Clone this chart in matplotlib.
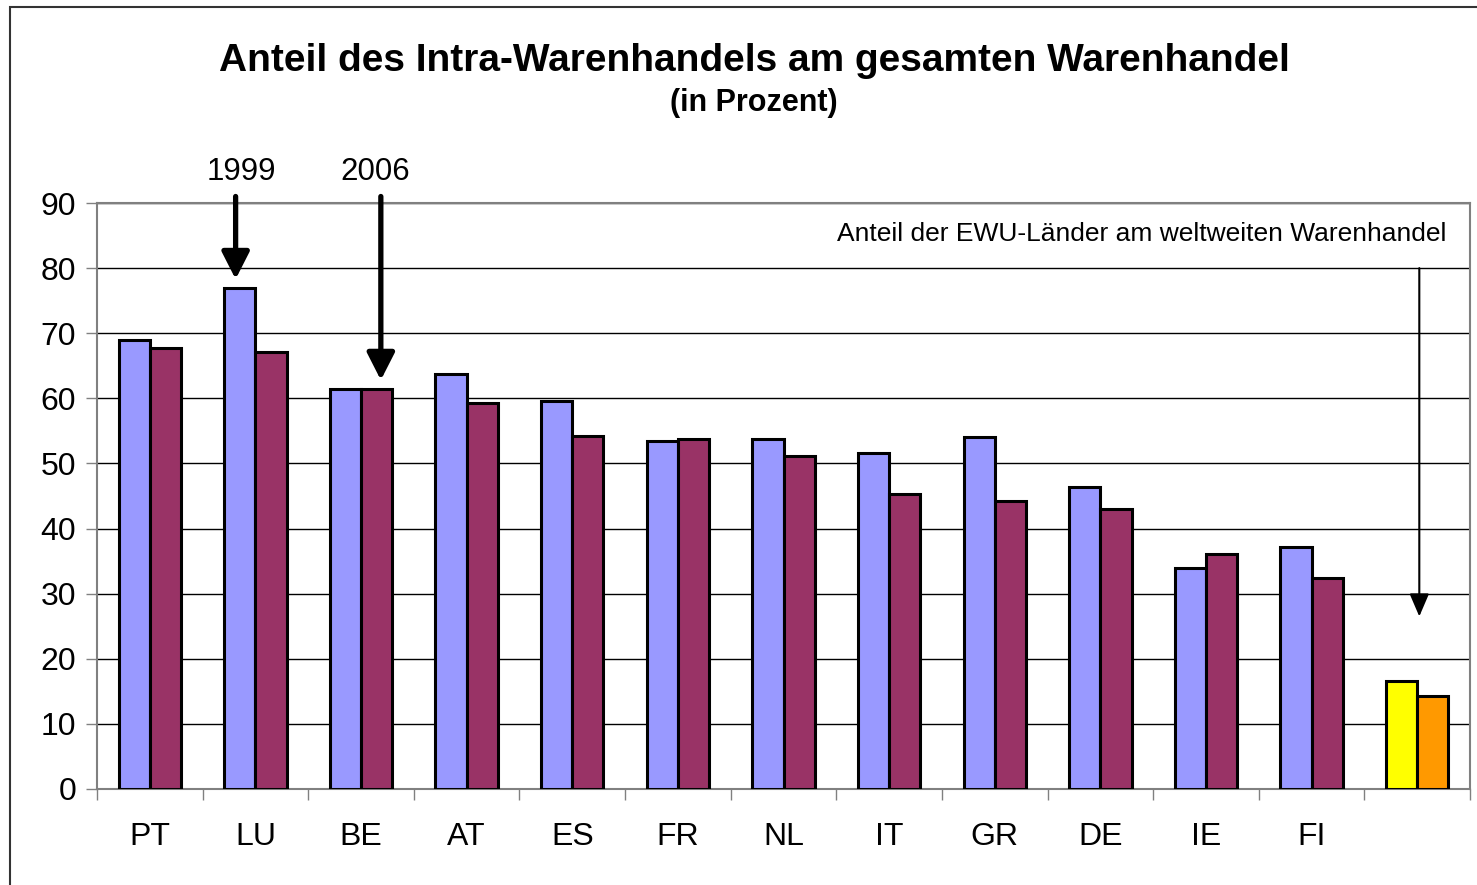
import numpy as np
import matplotlib
matplotlib.use("Agg")
import matplotlib.pyplot as plt
from matplotlib.patches import Rectangle

plt.rcParams['font.family'] = ['Liberation Sans', 'DejaVu Sans']

# data
countries = ['PT', 'LU', 'BE', 'AT', 'ES', 'FR', 'NL', 'IT', 'GR', 'DE', 'IE', 'FI', '']
share_1999 = [69.0, 77.0, 61.5, 63.7, 59.6, 53.4, 53.8, 51.6, 54.1, 46.4, 33.9, 37.2, 16.6]
share_2006 = [67.7, 67.1, 61.5, 59.3, 54.2, 53.8, 51.2, 45.3, 44.2, 43.0, 36.1, 32.4, 14.3]
colors_1999 = ['#9999ff'] * 12 + ['#ffff00']
colors_2006 = ['#993366'] * 12 + ['#ff9900']

W, H = 1477, 885
fig = plt.figure(figsize=(W / 100, H / 100), dpi=100)
ax = fig.add_axes([97 / W, 1 - 789 / H, (1470 - 97) / W, (789 - 203) / H])

x = np.arange(len(countries))
bw = 0.295
ax.bar(x - bw / 2, share_1999, bw, color=colors_1999, edgecolor='black', linewidth=2.2, zorder=3)
ax.bar(x + bw / 2, share_2006, bw, color=colors_2006, edgecolor='black', linewidth=2.2, zorder=3)

ax.set_xlim(-0.5, len(countries) - 0.5)
ax.set_ylim(0, 90)
ax.set_yticks(np.arange(0, 91, 10))
ax.yaxis.grid(True, color='black', linewidth=1, zorder=0)
ax.set_axisbelow(True)

# category ticks between groups, labels at centres
ax.set_xticks(np.arange(-0.5, len(countries), 1.0))
ax.set_xticklabels([])
ax.set_xticks(x, minor=True)
ax.set_xticklabels(countries, minor=True, fontsize=23)
ax.tick_params(axis='x', which='major', length=8, width=1, color='#808080', direction='out')
ax.tick_params(axis='x', which='minor', length=0, pad=24)
ax.tick_params(axis='y', length=8, width=1, color='#808080', labelsize=23, pad=7)

for s in ax.spines.values():
    s.set_color('#808080')
    s.set_linewidth(1.5)

# title
fig.text(754 / W, 1 - 61 / H, 'Anteil des Intra-Warenhandels am gesamten Warenhandel',
         ha='center', va='center', fontsize=28, fontweight='bold')
fig.text(754 / W, 1 - 103 / H, '(in Prozent)', ha='center', va='center',
         fontsize=22, fontweight='bold')

# annotations
big_arrow = dict(arrowstyle='-|>,head_length=0.55,head_width=0.28', lw=3.8, color='black',
                 mutation_scale=30, shrinkA=0, shrinkB=0)
ax.annotate('', xy=(x[1] - bw / 2 - 0.04, 78.3), xytext=(x[1] - bw / 2 - 0.04, 91.0),
            arrowprops=big_arrow, annotation_clip=False)
ax.annotate('', xy=(x[2] + bw / 2 + 0.04, 62.8), xytext=(x[2] + bw / 2 + 0.04, 91.0),
            arrowprops=big_arrow, annotation_clip=False)
fig.text(241 / W, 1 - 172 / H, '1999', ha='center', va='center', fontsize=22.5)
fig.text(375 / W, 1 - 172 / H, '2006', ha='center', va='center', fontsize=22.5)

ax.annotate('', xy=(x[12] + 0.02, 26.5), xytext=(x[12] + 0.02, 80.0),
            arrowprops=dict(arrowstyle='-|>,head_length=0.7,head_width=0.3', lw=1.5,
                            color='black', mutation_scale=20, shrinkA=0, shrinkB=0))
fig.text(1446 / W, 1 - 234 / H, 'Anteil der EWU-Länder am weltweiten Warenhandel',
         ha='right', va='center', fontsize=19)

# outer frame
fig.patches.append(Rectangle((10 / W, -0.05), 1.1, 1 - 7 / H + 0.05, transform=fig.transFigure,
                             fill=False, edgecolor='#333333', linewidth=1.5))

fig.savefig('out.png', dpi=100)
